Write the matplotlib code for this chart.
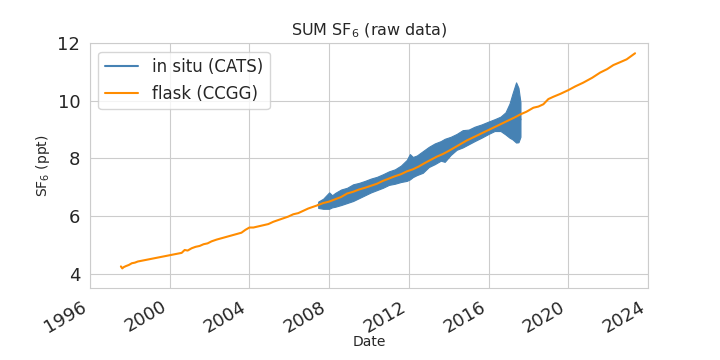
import numpy as np
import matplotlib
matplotlib.use('Agg')
import matplotlib.pyplot as plt
import seaborn as sns

# flask (CCGG) record, decimal year / ppt
flask_year = [1997.55, 1997.62, 1997.68, 1997.8, 1997.95, 1998.1, 1998.25, 1998.4,
              2000.6, 2000.75, 2000.9, 2001.1, 2001.3, 2001.5, 2001.7, 2001.9, 2002.1, 2002.35,
              2003.6, 2003.8, 2004.0, 2004.2, 2004.45, 2004.7, 2004.95, 2005.2, 2005.45,
              2005.7, 2005.95, 2006.2, 2006.45, 2006.7, 2006.95, 2007.2, 2007.45, 2007.7,
              2008.0, 2008.3, 2008.6, 2008.9, 2009.2, 2009.5, 2009.8, 2010.1, 2010.4,
              2010.7, 2011.0, 2011.3, 2011.6, 2011.9, 2012.2, 2012.5, 2012.8, 2013.1,
              2013.4, 2013.7, 2014.0, 2014.3, 2014.6, 2014.9, 2015.2, 2015.5, 2015.8,
              2016.1, 2016.4, 2016.7, 2017.0, 2017.3, 2017.6, 2017.9, 2018.25, 2018.5,
              2018.75, 2019.0, 2019.25, 2019.6, 2020.0, 2020.35, 2020.75, 2021.2, 2021.6,
              2021.95, 2022.26, 2022.6, 2022.93, 2023.15, 2023.35]
flask_ppt = [4.25, 4.18, 4.22, 4.26, 4.30, 4.36, 4.38, 4.42,
             4.72, 4.82, 4.80, 4.88, 4.93, 4.96, 5.02, 5.05, 5.12, 5.18,
             5.42, 5.52, 5.60, 5.60, 5.64, 5.68, 5.72, 5.80, 5.86,
             5.92, 5.98, 6.06, 6.10, 6.18, 6.26, 6.32, 6.38, 6.45,
             6.50, 6.58, 6.66, 6.78, 6.84, 6.92, 6.98, 7.05, 7.12,
             7.22, 7.30, 7.38, 7.45, 7.55, 7.62, 7.72, 7.84, 7.95,
             8.06, 8.15, 8.26, 8.38, 8.50, 8.62, 8.72, 8.82, 8.92,
             9.02, 9.12, 9.22, 9.32, 9.42, 9.53, 9.62, 9.76, 9.80,
             9.88, 10.06, 10.14, 10.24, 10.37, 10.50, 10.63, 10.80, 10.98,
             11.10, 11.24, 11.34, 11.44, 11.55, 11.65]

# in situ (CATS) record: low / high envelope of the hourly data
insitu_year = [2007.45, 2007.7, 2008.0, 2008.15, 2008.3, 2008.6, 2008.9, 2009.2, 2009.5,
               2009.8, 2010.1, 2010.4, 2010.7, 2011.0, 2011.3, 2011.6, 2011.9, 2012.05,
               2012.2, 2012.4, 2012.7, 2013.0, 2013.3, 2013.6, 2013.8, 2014.1, 2014.4,
               2014.7, 2015.0, 2015.3, 2015.65, 2016.0, 2016.3, 2016.6, 2016.85, 2017.05,
               2017.2, 2017.38, 2017.5, 2017.6]
insitu_lo = [6.28, 6.25, 6.25, 6.30, 6.32, 6.38, 6.45, 6.52, 6.62,
             6.72, 6.82, 6.90, 6.98, 7.08, 7.12, 7.18, 7.22, 7.27,
             7.35, 7.42, 7.50, 7.70, 7.80, 7.92, 7.88, 8.12, 8.30,
             8.38, 8.49, 8.60, 8.72, 8.85, 8.95, 8.95, 8.83, 8.72,
             8.66, 8.55, 8.56, 8.75]
insitu_hi = [6.50, 6.60, 6.82, 6.72, 6.80, 6.92, 6.98, 7.10, 7.15,
             7.22, 7.30, 7.36, 7.45, 7.55, 7.62, 7.75, 7.95, 8.15,
             8.05, 8.10, 8.25, 8.40, 8.52, 8.60, 8.68, 8.75, 8.85,
             8.98, 9.00, 9.10, 9.18, 9.28, 9.36, 9.45, 9.60, 9.90,
             10.25, 10.64, 10.45, 9.95]

sns.set_style('whitegrid')

fig, ax = plt.subplots(figsize=(7.2, 3.6), dpi=100)

iy = np.array(insitu_year)
lo = np.array(insitu_lo)
hi = np.array(insitu_hi)
ax.fill_between(iy, lo, hi, color='steelblue', lw=0.8)
ax.plot(iy, (lo + hi) / 2, color='steelblue', label='in situ (CATS)')
ax.plot(flask_year, flask_ppt, color='darkorange', label='flask (CCGG)')

ax.set_xlim(1996, 2024)
ax.set_ylim(3.5, 12)
ax.set_xticks(np.arange(1996, 2025, 4))
ax.set_xticklabels([str(y) for y in range(1996, 2025, 4)])
ax.set_yticks([4, 6, 8, 10, 12])
ax.tick_params(labelsize=13)
ax.set_title('SUM SF$_6$ (raw data)', fontsize=11.5)
ax.set_ylabel('SF$_6$ (ppt)')
ax.set_xlabel('Date', labelpad=-1)
ax.legend(loc='upper left', fontsize=12)
fig.autofmt_xdate()

plt.savefig('out.png')
